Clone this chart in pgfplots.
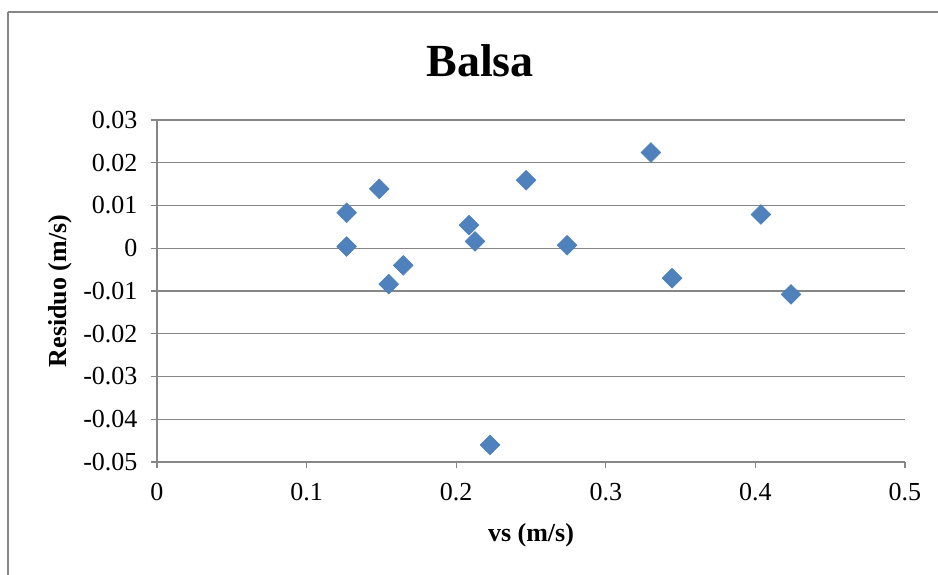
\documentclass[border=0pt]{standalone}
\usepackage{pgfplots}
\pgfplotsset{compat=1.18}
\usepackage{fontspec}
\setmainfont{Liberation Serif}
\definecolor{ptblue}{HTML}{4F81BD}
\definecolor{ptedge}{HTML}{4A7EBB}
\definecolor{gridgray}{HTML}{868686}
\begin{document}
\begin{tikzpicture}[x=1pt,y=1pt]
\useasboundingbox (-157,-112) rectangle (781,462);
\draw[gridgray, line width=1.3pt] (-149,450) -- (800,450);
\draw[gridgray, line width=1.3pt] (-149,450) -- (-149,-130);
\begin{axis}[
  at={(0,0)}, anchor=south west,
  scale only axis,
  width=748pt, height=342pt,
  xmin=0, xmax=0.5, ymin=-0.05, ymax=0.03,
  xtick={0,0.1,...,0.5},
  ytick={-0.05,-0.04,...,0.03},
  scaled x ticks=false, scaled y ticks=false,
  xticklabel style={/pgf/number format/fixed,/pgf/number format/precision=1, yshift=-12pt},
  yticklabel style={/pgf/number format/fixed,/pgf/number format/precision=2, xshift=-10pt},
  /pgf/number format/assume math mode=true,
  axis x line*=bottom, axis y line*=left,
  axis line style={gridgray, line width=1.3pt, -},
  tick style={gridgray, line width=1.3pt},
  major tick length=6pt,
  tick align=outside,
  ymajorgrids,
  grid style={gridgray, line width=1.3pt},
  tick label style={font=\fontsize{26}{30}\selectfont},
  xlabel={vs (m/s)}, ylabel={Residuo (m/s)},
  label style={font=\fontsize{26}{30}\selectfont\bfseries},
  xlabel style={at={(axis description cs:0.5,-0.2135)}, anchor=center},
  ylabel style={at={(axis description cs:-0.1297,0.5)}, anchor=center, rotate=0},
  title={Balsa},
  title style={at={(axis description cs:0.432,1.155)}, anchor=center, font=\fontsize{46}{52}\selectfont\bfseries},
  clip=false,
]
\addplot[only marks, mark=square*, mark size=7pt,
  mark options={rotate=45, fill=ptblue, draw=ptedge, line width=0.5pt}]
  coordinates {
  (0.1268,0.0083)
  (0.1268,0.0004)
  (0.1486,0.0139)
  (0.1549,-0.0084)
  (0.1646,-0.0040)
  (0.2086,0.0054)
  (0.2126,0.0016)
  (0.2226,-0.0460)
  (0.2467,0.0159)
  (0.2741,0.0007)
  (0.3302,0.0224)
  (0.3443,-0.0070)
  (0.4037,0.0079)
  (0.4238,-0.0108)
  };
\end{axis}
\end{tikzpicture}
\end{document}
